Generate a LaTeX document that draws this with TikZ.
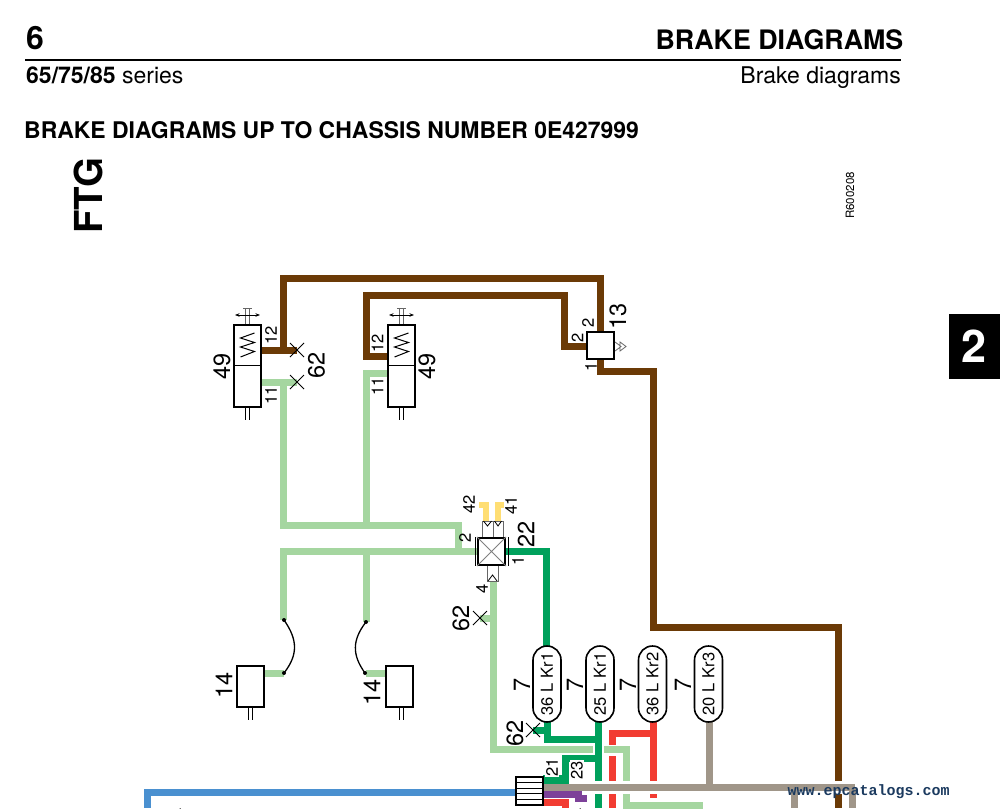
\documentclass[tikz,border=0pt]{standalone}
\usepackage{fontspec}
\setmainfont{TeX Gyre Heros}
\newfontfamily\wmfont{Liberation Mono}
\usetikzlibrary{shapes.misc,arrows.meta,calc}
\definecolor{pipebrown}{HTML}{6B3A06}
\definecolor{pipelight}{HTML}{A5D6A0}
\definecolor{pipegreen}{HTML}{00A15C}
\definecolor{pipered}{HTML}{F23C32}
\definecolor{pipegray}{HTML}{A09689}
\definecolor{pipepurple}{HTML}{7D4199}
\definecolor{pipeblue}{HTML}{4A90D0}
\definecolor{pipeyellow}{HTML}{FFDE73}
\definecolor{wmnavy}{HTML}{1B3A5F}
\tikzset{
	pipe/.style={line width=7pt,line join=miter},
	part/.style={draw,line width=2pt,fill=white,inner sep=0pt},
	mark62/.style={line width=1pt},
	labS/.style={rotate=90,inner sep=0pt,font=\fontsize{16.5}{16.5}\selectfont},
	labL/.style={rotate=90,inner sep=0pt,font=\fontsize{23.5}{23.5}\selectfont},
	capsule/.style={draw,line width=1.6pt,fill=white,rounded rectangle,rotate=90,inner sep=0pt,
		minimum width=76pt,minimum height=28pt,font=\fontsize{16.5}{16.5}\selectfont},
}
\begin{document}
\begin{tikzpicture}[x=1pt,y=-1pt]
	\useasboundingbox (0,0) rectangle (1000,808);
	\clip (0,0) rectangle (1000,808);
	% page header
	\node[anchor=base west,inner sep=0pt,font=\fontsize{32}{32}\selectfont\bfseries] (pagenr) at (26,49) {6};
	\node[anchor=base east,inner sep=0pt,font=\fontsize{26.8}{26.8}\selectfont\bfseries] (headR) at (903.5,49) {BRAKE DIAGRAMS};
	\draw[line width=2pt] (25,60)--(901,60);
	\node[anchor=base west,inner sep=0pt,font=\fontsize{23}{23}\selectfont] (seriesL) at (26,83) {\textbf{65/75/85} series};
	\node[anchor=base east,inner sep=0pt,font=\fontsize{23}{23}\selectfont] (seriesR) at (901,83) {Brake diagrams};
	\node[anchor=base west,inner sep=0pt,font=\fontsize{22.95}{22.95}\selectfont\bfseries] (title) at (24,138) {BRAKE DIAGRAMS UP TO CHASSIS NUMBER 0E427999};
	\node[anchor=base west,rotate=90,inner sep=0pt,font=\fontsize{38.5}{38.5}\selectfont\bfseries] (ftg) at (102,234) {FTG};
	\node[rotate=90,inner sep=0pt,font=\fontsize{11.5}{11.5}\selectfont] (refnr) at (850,195.5) {R600208};
	\node[fill=black,minimum width=51pt,minimum height=65pt,inner sep=0pt] (tab) at (974.5,346.5) {};
	\node[text=white,inner sep=0pt,font=\fontsize{45}{45}\selectfont\bfseries] (tabnr) at (973.5,346) {2};
	% ports
	\coordinate (A12) at (261,350);
	\coordinate (A11) at (261,382);
	\coordinate (B12) at (388,356);
	\coordinate (B11) at (388,373);
	\coordinate (X1) at (297,350);
	\coordinate (X2) at (297,382);
	\coordinate (X3) at (480,618);
	\coordinate (X4) at (533,730);
	% brown
	\draw[pipe,pipebrown] (A12)--(283,350)--(283,278)--(600,278)--(600,332);
	\draw[pipe,pipebrown] (A12)--(X1);
	\draw[pipe,pipebrown] (B12)--(366,356)--(366,295)--(564,295)--(564,346)--(587,346);
	\draw[pipe,pipebrown] (600,359)--(600,371)--(653,371)--(653,627)--(838,627)--(838,781);
	\draw[pipe,pipebrown] (838,794)--(838,808);
	% light green
	\draw[pipe,pipelight] (A11)--(X2);
	\draw[pipe,pipelight] (283,382)--(283,525)--(458,525)--(458,551);
	\draw[pipe,pipelight] (B11)--(366,373)--(366,525);
	\draw[pipe,pipelight] (477,551)--(283,551)--(283,620);
	\draw[pipe,pipelight] (366,551)--(366,622);
	\draw[pipe,pipelight] (264,673)--(284,673);
	\draw[pipe,pipelight] (386,673)--(366,673);
	\draw[pipe,pipelight] (493,581)--(493,749)--(593,749);
	\draw[pipe,pipelight] (X3)--(493,618);
	\draw[pipe,pipelight] (604,749)--(626,749)--(626,781);
	\draw[pipe,pipelight] (626,794)--(626,805.5)--(703,805.5);
	% hoses to the chambers
	\fill (284,620) circle (2) (284,673) circle (2) (366,622) circle (2) (365,673) circle (2);
	\draw[line width=1.3pt] (284,620) .. controls (298,640) and (298,655) .. (284,673);
	\draw[line width=1.3pt] (366,622) .. controls (352,640) and (352,655) .. (365,673);
	% yellow
	\draw[line width=6pt,pipeyellow] (479,505)--(486,505)--(486,521);
	\draw[line width=6pt,pipeyellow] (504,505)--(498,505)--(498,521);
	% dark green
	\draw[pipe,pipegreen] (505,551)--(546,551)--(546,648);
	\draw[pipe,pipegreen] (X4)--(547,730);
	\draw[pipe,pipegreen] (547,722)--(547,739)--(598,739);
	\draw[pipe,pipegreen] (598,722)--(598,781);
	\draw[pipe,pipegreen] (598,794)--(598,808);
	\draw[pipe,pipegreen] (598,758)--(565,758)--(565,784);
	\draw[line width=9pt,pipegreen] (543,779.5)--(568,779.5);
	% red
	\draw[pipe,pipered] (653,722)--(653,781);
	\draw[pipe,pipered] (653,794)--(653,798);
	\draw[pipe,pipered] (653,733.5)--(612,733.5)--(612,745);
	\draw[pipe,pipered] (612,756)--(612,781);
	\draw[pipe,pipered] (612,794)--(612,808);
	\draw[pipe,pipered] (543,802)--(565,802)--(565,808);
	% gray, purple, blue
	\draw[line width=7pt,pipegray] (543,787.5)--(855,787.5);
	\draw[pipe,pipegray] (709,722)--(709,787);
	\draw[pipe,pipegray] (794,787)--(794,808);
	\draw[pipe,pipegray] (852,787)--(852,808);
	\draw[pipe,pipepurple] (543,794)--(582,794);
	\draw[pipe,pipepurple] (575,798.5)--(587,798.5);
	\draw[pipe,pipeblue] (516,792)--(147,792)--(147,808);
	% valves 49
	\foreach \vname/\vx in {A/247.5,B/401.5}{
		\draw[line width=0.8pt,black!60] (\vx-2.5,308)--(\vx-2.5,325) (\vx+2,308)--(\vx+2,325) (\vx-4.5,308)--(\vx+4,308);
		\draw[line width=0.7pt,{Stealth[length=4.5pt,width=3.5pt]}-{Stealth[length=4.5pt,width=3.5pt]}] (\vx-12.5,315)--(\vx+12.5,315);
		\draw[line width=1pt] (\vx-2.5,407)--(\vx-2.5,420) (\vx+2,407)--(\vx+2,420);
		\node[part,minimum width=27pt,minimum height=82pt] (valve\vname) at (\vx,366) {};
		\draw[line width=1pt] (valve\vname.west |- 0,365)--(valve\vname.east |- 0,365);
		\draw[line width=1pt] (\vx+7,333)--(\vx-7,338)--(\vx+7,342.5)--(\vx-7,347)--(\vx+7,351.5)--(\vx-7,357);
	}
	\node[labL] (l49a) at (222,366) {49};
	\node[labL] (l49b) at (427,366) {49};
	\node[labS] (l12a) at (271,335) {12};
	\node[labS] (l11a) at (271,395) {11};
	\node[labS] (l12b) at (377.5,343) {12};
	\node[labS] (l11b) at (377.5,386) {11};
	% crosses
	\foreach \xm in {X1,X2,X3,X4}{
		\draw[mark62] ($(\xm)+(-7,-7)$)--($(\xm)+(7,7)$) ($(\xm)+(-7,7)$)--($(\xm)+(7,-7)$);
	}
	\node[labL] (l62a) at (316.5,365) {62};
	\node[labL] (l62b) at (461,618) {62};
	\node[labL] (l62c) at (515,733) {62};
	% relay valve 13
	\node[part,minimum width=27pt,minimum height=27pt] (valve13) at (600.5,345.5) {};
	\draw[line width=0.8pt,black!60] (615,342)--(621,346.5)--(615,351) (620,342)--(626,346.5)--(620,351)--cycle;
	\node[labL] (l13) at (618,316) {13};
	\node[labS] (l2a) at (588,323) {2};
	\node[labS] (l2b) at (577.5,338) {2};
	\node[labS] (l1a) at (591,367) {1};
	% valve 22
	\draw[line width=1pt,black!60,fill=white] (482,521) rectangle (493,538);
	\draw[line width=1pt,black!60,fill=white] (493,521) rectangle (503,538);
	\draw[line width=0.8pt] (483.5,521)--(487.5,526)--(491.5,521) (494.5,521)--(498,526)--(501.5,521);
	\draw[line width=1pt,black!60,fill=white] (487,565) rectangle (498,581);
	\draw[line width=0.8pt] (488,581)--(492.5,575)--(497,581);
	\node[part,line width=2.2pt,minimum width=27pt,minimum height=27pt] (valve22) at (491.5,551.5) {};
	\draw[line width=0.8pt,black!50] (valve22.north west)--(valve22.south east) (valve22.north east)--(valve22.south west);
	\draw[line width=1pt] (475.5,537)--(475.5,566) (508,537)--(508,566);
	\node[labL] (l22) at (526,534) {22};
	\node[labS] (l42) at (469,504) {42};
	\node[labS] (l41) at (511,505) {41};
	\node[labS] (l2c) at (465,538) {2};
	\node[labS] (l1b) at (518,561) {1};
	\node[labS] (l4) at (482,589) {4};
	% chambers 14
	\node[part,minimum width=27pt,minimum height=41pt] (cham1) at (250.5,686.5) {};
	\node[part,minimum width=27pt,minimum height=41pt] (cham2) at (399.5,686.5) {};
	\draw[line width=1pt] (248,707)--(248,720) (252,707)--(252,720) (399,707)--(399,720) (403,707)--(403,720);
	\node[labL] (l14a) at (224,685) {14};
	\node[labL] (l14b) at (372,692) {14};
	% couplings 7
	\foreach \cname/\cx/\ctext in {a/547/36 L Kr1,b/600/25 L Kr1,c/652.5/36 L Kr2,d/708.5/20 L Kr3}{
		\node[capsule] (cap\cname) at (\cx,684) {\ctext};
	}
	\node[labL] (l7a) at (522,685) {7};
	\node[labL] (l7b) at (575,685) {7};
	\node[labL] (l7c) at (628,685) {7};
	\node[labL] (l7d) at (683,685) {7};
	% connector block
	\node[part,minimum width=27pt,minimum height=28pt] (block) at (529.5,791) {};
	\foreach \yy in {782.5,788,793.5,799}{
		\draw[line width=1pt] (block.west |- 0,\yy)--(block.east |- 0,\yy);
	}
	\node[fill=white,labS,inner sep=1pt] (l21) at (552,767) {21};
	\node[fill=white,labS,inner sep=1pt] (l23) at (577,770) {23};
	\node[labS] (lcut1) at (552,812) {1};
	\node[labS] (lcut2) at (578,813) {4};
	\node[labS] (lcut3) at (178,813) {4};
	\node[labS] (lcut4) at (115,813.5) {7};
	% watermark
	\node[text=wmnavy,inner sep=0pt,font=\fontsize{15}{15}\selectfont\wmfont\bfseries] (wmark) at (868.5,792) {www.epcatalogs.com};
\end{tikzpicture}
\end{document}
